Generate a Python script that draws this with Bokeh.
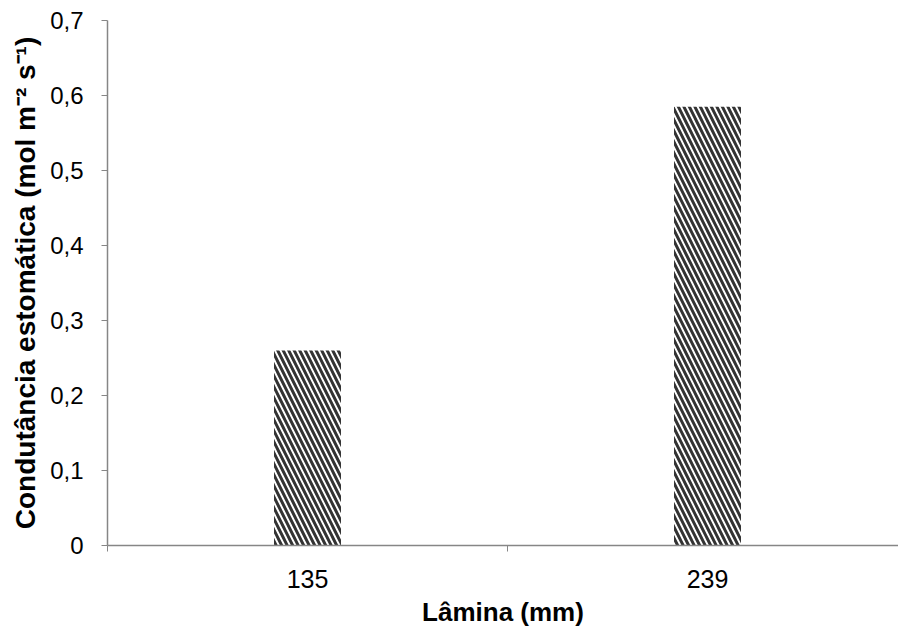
from bokeh.plotting import figure
from bokeh.models import ColumnDataSource, Range1d, FixedTicker
from bokeh.embed import file_html
from bokeh.resources import INLINE

categories = ["135", "239"]
values = [0.26, 0.585]
y_ticks = [0, 0.1, 0.2, 0.3, 0.4, 0.5, 0.6, 0.7]
y_labels = ["0", "0,1", "0,2", "0,3", "0,4", "0,5", "0,6", "0,7"]

xpos = [i + 0.5 for i in range(len(categories))]
src = ColumnDataSource(dict(x=xpos, top=values))

p = figure(width=898, height=632, output_backend="svg", toolbar_location=None,
           x_range=Range1d(0, 1.9775), y_range=Range1d(0, 0.7),
           min_border_left=107, min_border_top=20, min_border_right=0, min_border_bottom=87)
p.outline_line_color = None
p.xgrid.visible = False
p.ygrid.visible = False

p.vbar(x="x", top="top", bottom=0, width=0.1675, source=src,
       fill_color="white", line_color=None,
       hatch_pattern="\\", hatch_color="#333333", hatch_scale=11, hatch_weight=3)

axis_col = "#868686"
# x axis
p.xaxis.ticker = FixedTicker(ticks=xpos, minor_ticks=[0, 1, 2])
p.xaxis.major_label_overrides = {x: c for x, c in zip(xpos, categories)}
p.xaxis.major_tick_out = 0
p.xaxis.major_tick_in = 0
p.xaxis.minor_tick_out = 6
p.xaxis.minor_tick_in = 0
p.xaxis.minor_tick_line_color = axis_col
p.xaxis.axis_line_color = axis_col
p.xaxis.axis_line_width = 1.5
p.xaxis.major_label_standoff = 18
p.xaxis.major_label_text_font = "Liberation Sans"
p.xaxis.major_label_text_font_size = "25px"
p.xaxis.major_label_text_color = "black"
p.xaxis.axis_label = "Lâmina (mm)"
p.xaxis.axis_label_text_font = "Liberation Sans"
p.xaxis.axis_label_text_font_style = "bold"
p.xaxis.axis_label_text_font_size = "26px"
p.xaxis.axis_label_text_color = "black"
p.xaxis.axis_label_standoff = 6

# y axis
p.yaxis.ticker = FixedTicker(ticks=y_ticks, minor_ticks=[])
p.yaxis.major_label_overrides = {t: l for t, l in zip(y_ticks, y_labels)}
p.yaxis.major_tick_out = 6
p.yaxis.major_tick_in = 0
p.yaxis.major_tick_line_color = axis_col
p.yaxis.axis_line_color = axis_col
p.yaxis.axis_line_width = 1.5
p.yaxis.major_label_standoff = 18
p.yaxis.major_label_text_font = "Liberation Sans"
p.yaxis.major_label_text_font_size = "24px"
p.yaxis.major_label_text_color = "black"
p.yaxis.axis_label = "Condutância estomática (mol m⁻² s⁻¹)"
p.yaxis.axis_label_text_font = "Liberation Sans"
p.yaxis.axis_label_text_font_style = "bold"
p.yaxis.axis_label_text_font_size = "28px"
p.yaxis.axis_label_text_color = "black"
p.yaxis.axis_label_standoff = 6

open("out.html", "w").write(file_html(p, INLINE))
